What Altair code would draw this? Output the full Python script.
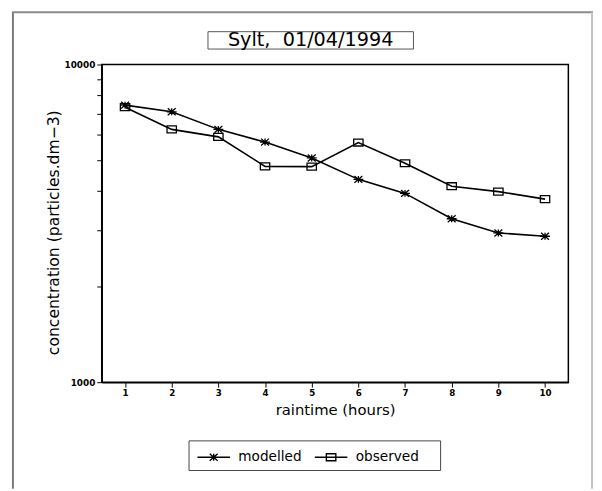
import altair as alt
import pandas as pd

# ---- data ----
hours = [1, 2, 3, 4, 5, 6, 7, 8, 9, 10]
modelled = [7450, 7100, 6250, 5700, 5080, 4350, 3930, 3270, 2950, 2880]
observed = [7340, 6250, 5920, 4780, 4770, 5680, 4890, 4140, 3980, 3770]
series_names = ["modelled", "observed"]
y_ticks = [1000, 2000, 3000, 4000, 5000, 6000, 7000, 8000, 9000, 10000]
title_text = "Sylt,\u00a0 01/04/1994"
x_title = "raintime (hours)"
y_title = "concentration (particles.dm\u22123)"

df = pd.DataFrame({
    "hour": hours * 2,
    "value": modelled + observed,
    "series": [series_names[0]] * len(hours) + [series_names[1]] * len(hours),
})

FONT = "DejaVu Sans"

# marker shapes (plot) and legend shapes (line + marker)
ast_path = "M-1,0L1,0M-0.8,-0.7L0.8,0.7M-0.8,0.7L0.8,-0.7M0,-0.7L0,0.7"
sq_path = "M-0.95,-0.7L0.95,-0.7L0.95,0.7L-0.95,0.7Z"
leg_ast = "M-1.65,0L1.65,0M-0.4,-0.35L0.4,0.35M-0.4,0.35L0.4,-0.35M0,-0.35L0,0.35"
leg_sq = "M-1.65,0L1.65,0M-0.48,-0.35L0.48,-0.35L0.48,0.35L-0.48,0.35Z"

x_enc = alt.X(
    "hour:Q",
    scale=alt.Scale(domain=[0.5, 10.5], nice=False, zero=False),
    axis=alt.Axis(
        values=hours, title=x_title, format="d", tickSize=5, labelPadding=2,
        labelFlush=False, labelOverlap=False, titlePadding=5,
        labelFont=FONT, labelFontSize=8.8, labelFontWeight="bold",
        titleFont=FONT, titleFontSize=15, titleFontWeight="normal",
    ),
)
y_enc = alt.Y(
    "value:Q",
    scale=alt.Scale(type="log", domain=[1000, 10000], nice=False),
    axis=alt.Axis(
        values=y_ticks, title=y_title, format="d", tickSize=5, labelPadding=2,
        labelOverlap=False, labelFlush=False,
        labelExpr="datum.value == 1000 || datum.value == 10000 ? datum.label : ''",
        labelFont=FONT, labelFontSize=9, labelFontWeight="bold",
        titleFont=FONT, titleFontSize=15.8, titleFontWeight="normal",
        titlePadding=2, titleY=170,
    ),
)

base = alt.Chart(df)

lines = base.mark_line(color="black", strokeWidth=1.6).encode(
    x=x_enc, y=y_enc, detail="series:N"
)

points = base.mark_point(filled=False, color="black", strokeWidth=1.3, size=100, opacity=1).encode(
    x=x_enc, y=y_enc,
    shape=alt.Shape("series:N", scale=alt.Scale(domain=series_names, range=[ast_path, sq_path]), legend=None),
)

legend_layer = base.mark_point(filled=False, color="black", opacity=0).encode(
    x=x_enc, y=y_enc,
    shape=alt.Shape(
        "series:N",
        scale=alt.Scale(domain=series_names, range=[leg_ast, leg_sq]),
        legend=alt.Legend(
            title="\u00a0", titleOrient="right", titlePadding=16, titleFontSize=8,
            orient="none", legendX=88, legendY=381, direction="horizontal",
            strokeColor="#444", fillColor="white", padding=6,
            symbolSize=400, symbolOffset=8.5, labelOffset=14, columnPadding=10,
            symbolStrokeColor="black", symbolStrokeWidth=1.4, symbolOpacity=1,
            symbolFillColor="transparent",
            labelFont=FONT, labelFontSize=13.8, labelColor="black",
        ),
    ),
)

one = alt.Chart(pd.DataFrame({"t": [title_text]}))

frame_left = one.mark_rule(color="#7a7a7a", strokeWidth=2).encode(
    x=alt.value(-90), y=alt.value(-53), y2=alt.value(430)
)
frame_top = one.mark_rule(color="#8a8a8a", strokeWidth=2).encode(
    x=alt.value(-91), x2=alt.value(498), y=alt.value(-53)
)
frame_right = one.mark_rule(color="#c4c4c4", strokeWidth=2).encode(
    x=alt.value(497), y=alt.value(-53), y2=alt.value(430)
)
title_box = one.mark_rect(fill="white", stroke="#555", strokeWidth=1).encode(
    x=alt.value(107.7), x2=alt.value(316), y=alt.value(-33.3), y2=alt.value(-15.7)
)
title_mark = one.mark_text(font=FONT, fontSize=19.5, align="center", baseline="alphabetic", color="black").encode(
    text="t:N", x=alt.value(211.8), y=alt.value(-18.3)
)

chart = alt.layer(
    frame_left, frame_top, frame_right, title_box, title_mark, lines, points, legend_layer
).resolve_scale(shape="independent").properties(
    width=473, height=322,
    autosize=alt.AutoSizeParams(type="none"),
    padding={"left": 95, "top": 54, "right": 26, "bottom": 107},
    background="white",
).configure_view(
    stroke="black", strokeWidth=1.5
).configure_axis(
    domainColor="black", domainWidth=1.5, tickColor="black", tickWidth=1,
    labelColor="black", titleColor="black", grid=False,
)

chart.save("out.html", embed_options={"renderer": "svg", "actions": False})
